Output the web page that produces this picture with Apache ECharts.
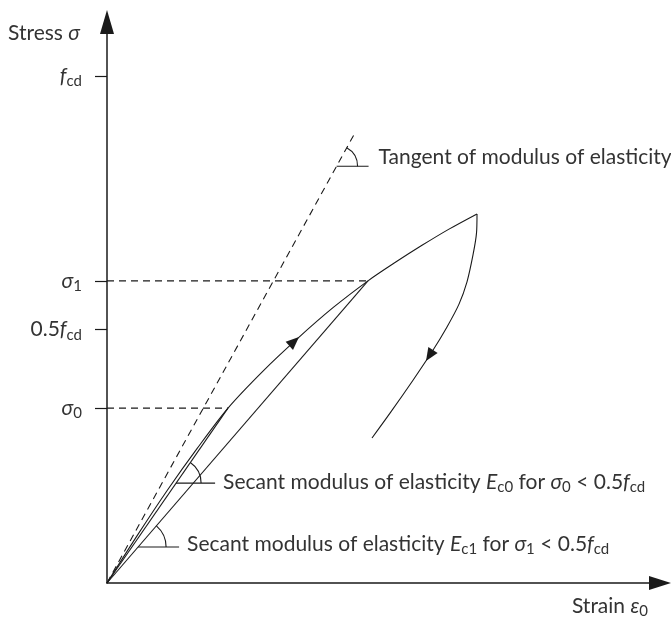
<!DOCTYPE html>
<html>
<head>
<meta charset="utf-8">
<title>Stress-strain</title>
<script src="https://cdn.jsdelivr.net/npm/echarts@6/dist/echarts.min.js"></script>
<style>
  html, body { margin: 0; padding: 0; background: #fff; }
  #chart { width: 671px; height: 618px; }
</style>
</head>
<body>
<div id="chart"></div>
<script>
// stress in units of f_cd, strain in arbitrary units
const stressTicks = [0.345, 0.5, 0.596, 1.0]
const stressTickLabels = ['{i|σ}{s|0}', '0.5{i|f}{s|cd}', '{i|σ}{s|1}', '{i|f}{s|cd}']

const sigma0Point = [1.21, 0.345]
const sigma1Point = [2.61, 0.596]
const tangentEnd = [2.48, 0.888]

// loading branch, origin -> peak
const loadStrain = [0, 0.30, 0.60, 0.90, 1.21, 1.56, 1.91, 2.26, 2.61, 2.88, 3.15, 3.42, 3.70]
const loadStress = [0, 0.093, 0.182, 0.265, 0.345, 0.418, 0.483, 0.543, 0.596, 0.632, 0.666, 0.698, 0.728]
// unloading branch, peak -> end
const unloadStrain = [3.70, 3.695, 3.66, 3.60, 3.52, 3.40, 3.25, 3.06, 2.83, 2.65]
const unloadStress = [0.728, 0.690, 0.647, 0.594, 0.550, 0.505, 0.456, 0.400, 0.335, 0.286]

// arrow heads on the curves: tail strain, tail stress, tip strain, tip stress
const arrowHeads = [
    [1.79, 0.462, 1.92, 0.485],
    [3.29, 0.469, 3.19, 0.438]
]

// angle marks: end of the line (strain, stress) and the stress level of the mark
const angleMarks = [
    [2.48, 0.888, 0.822],
    [1.21, 0.345, 0.197],
    [2.61, 0.596, 0.071]
]
const angleTexts = [
    'Tangent of modulus of elasticity',
    'Secant modulus of elasticity {i|E}{s|c0} for {i|σ}{s|0} < 0.5{i|f}{s|cd}',
    'Secant modulus of elasticity {i|E}{s|c1} for {i|σ}{s|1} < 0.5{i|f}{s|cd}'
]

const ink = '#1a1a1a'
const textColor = '#333'
const font = 'Lato'
const fontSize = 21
const rich = {
    i: { fontStyle: 'italic', fontSize: fontSize, fontFamily: font, color: textColor, lineHeight: 26 },
    s: { fontSize: 15, fontFamily: font, color: textColor, lineHeight: 15, verticalAlign: 'bottom', padding: [10, 0, 0, 0] }
}
// arc radius, horizontal stroke length, text gap, text shift (px)
const markLook = [
    { r: 21, len: 32, gap: 10, dy: -9 },
    { r: 25, len: 39, gap: 8, dy: -1 },
    { r: 28, len: 41, gap: 8, dy: -3 }
]

function pairs(xs, ys) {
    return xs.map((x, i) => [x, ys[i]])
}

function segment(points, dashed) {
    return {
        type: 'line',
        data: points,
        symbol: 'none',
        silent: true,
        lineStyle: { color: ink, width: 1.1, type: dashed ? [7, 5] : 'solid' }
    }
}

const chart = echarts.init(document.getElementById('chart'))

chart.setOption({
    animation: false,
    backgroundColor: '#fff',
    grid: { left: 107, right: 11, top: 22, bottom: 35, outerBoundsMode: 'none' },
    xAxis: {
        type: 'value',
        min: 0,
        max: 5.53,
        splitLine: { show: false },
        axisTick: { show: false },
        axisLabel: { show: false },
        axisLine: {
            lineStyle: { color: ink, width: 1.5 },
            symbol: ['none', 'triangle'],
            symbolSize: [14, 22]
        },
        name: 'Strain {i|ε}{s|0}',
        nameLocation: 'end',
        nameGap: -12,
        nameTextStyle: {
            fontFamily: font, fontSize: fontSize, color: textColor, lineHeight: 26,
            align: 'right', verticalAlign: 'top', padding: [10, 0, 0, 0], rich: rich
        }
    },
    yAxis: {
        type: 'value',
        min: 0,
        max: 1.1065,
        splitLine: { show: false },
        axisLine: {
            lineStyle: { color: ink, width: 1.5 },
            symbol: ['none', 'triangle'],
            symbolSize: [14, 24]
        },
        axisTick: {
            show: true,
            customValues: stressTicks,
            length: 12,
            lineStyle: { color: ink, width: 1.2 }
        },
        axisLabel: {
            customValues: stressTicks,
            margin: 25,
            fontFamily: font,
            fontSize: fontSize,
            color: textColor,
            lineHeight: 26,
            rich: rich,
            formatter: (v) => stressTickLabels[stressTicks.indexOf(v)] || ''
        },
        name: 'Stress {i|σ}',
        nameLocation: 'end',
        nameGap: -11,
        nameTextStyle: {
            fontFamily: font, fontSize: fontSize, color: textColor, lineHeight: 26,
            align: 'right', verticalAlign: 'middle', padding: [0, 27, 0, 0], rich: rich
        }
    },
    series: [
        segment([[0, 0], tangentEnd], true),
        segment([[0, sigma1Point[1]], sigma1Point], true),
        segment([[0, sigma0Point[1]], sigma0Point], true),
        segment([[0, 0], sigma0Point], false),
        segment([[0, 0], sigma1Point], false),
        Object.assign(segment(pairs(loadStrain, loadStress), false), { smooth: 0.3 }),
        Object.assign(segment(pairs(unloadStrain, unloadStress), false), { smooth: 0.3 }),
        {
            type: 'custom',
            silent: true,
            data: arrowHeads,
            renderItem: function(params, api) {
                const a = api.coord([api.value(0), api.value(1)])
                const b = api.coord([api.value(2), api.value(3)])
                const dx = b[0] - a[0]
                const dy = b[1] - a[1]
                const n = Math.sqrt(dx * dx + dy * dy)
                const ux = dx / n
                const uy = dy / n
                const bx = b[0] - ux * 13
                const by = b[1] - uy * 13
                return {
                    type: 'polygon',
                    shape: { points: [b, [bx - uy * 5.5, by + ux * 5.5], [bx + uy * 5.5, by - ux * 5.5]] },
                    style: { fill: ink }
                }
            }
        },
        {
            type: 'custom',
            silent: true,
            data: angleMarks,
            renderItem: function(params, api) {
                const look = markLook[params.dataIndex]
                const ex = api.value(0)
                const ey = api.value(1)
                const lvl = api.value(2)
                const o = api.coord([0, 0])
                const e = api.coord([ex, ey])
                const c = api.coord([lvl * ex / ey, lvl])
                const ang = Math.atan2(o[1] - e[1], e[0] - o[0])
                return {
                    type: 'group',
                    children: [
                        {
                            type: 'line',
                            shape: { x1: c[0], y1: c[1], x2: c[0] + look.len, y2: c[1] },
                            style: { stroke: ink, lineWidth: 1.1 }
                        },
                        {
                            type: 'arc',
                            shape: { cx: c[0], cy: c[1], r: look.r, startAngle: -ang, endAngle: 0, clockwise: true },
                            style: { stroke: ink, lineWidth: 1.1, fill: null }
                        },
                        {
                            type: 'text',
                            style: {
                                text: angleTexts[params.dataIndex],
                                x: c[0] + look.len + look.gap,
                                y: c[1] + look.dy,
                                verticalAlign: 'middle',
                                align: 'left',
                                fontFamily: font,
                                fontSize: fontSize,
                                lineHeight: 26,
                                fill: textColor,
                                rich: rich
                            }
                        }
                    ]
                }
            }
        }
    ]
})
</script>
</body>
</html>
